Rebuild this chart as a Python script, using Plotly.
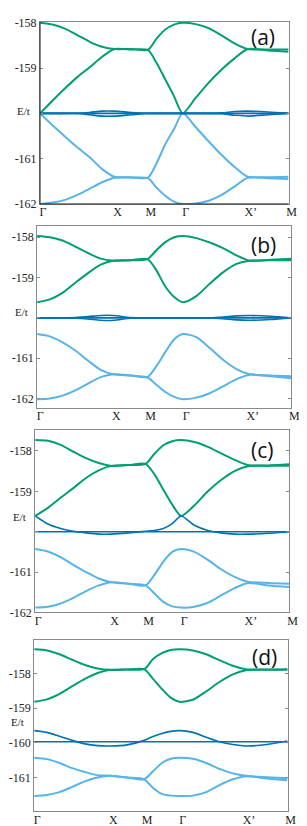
import plotly.graph_objects as go

W, H = 307, 826

# k-path sample positions (normalised path length) and high-symmetry labels
K = [0.0, 0.05, 0.10, 0.15, 0.20, 0.25, 0.30, 0.367, 0.434, 0.469, 0.504, 0.539,
     0.574, 0.626, 0.679, 0.731, 0.784, 0.836, 0.918, 1.0]
K_TICKS = [0.0, 0.30, 0.434, 0.574, 0.836, 1.0]
K_LABELS = ["Γ", "X", "M", "Γ", "X’", "M"]

# ---- panel (a) ----
a_green_top = [-158.00, -158.04, -158.13, -158.27, -158.42, -158.53, -158.58, -158.58, -158.60,
               -158.35, -158.15, -158.04, -158.00, -158.03, -158.12, -158.28, -158.46, -158.58,
               -158.59, -158.59]
a_green_low = [-160.00, -159.72, -159.45, -159.20, -158.98, -158.75, -158.58, -158.59, -158.60,
               -158.89, -159.25, -159.62, -160.00, -159.66, -159.32, -159.03, -158.78, -158.58,
               -158.61, -158.64]
a_dark_flat = [-160.0] * 20
a_dark_up = [-160.00, -160.00, -160.00, -160.00, -159.98, -159.95, -159.95, -159.98, -160.00,
             -160.00, -160.00, -160.00, -160.00, -160.00, -160.00, -159.99, -159.96, -159.95,
             -159.97, -160.00]
a_dark_dn = [-160.00, -160.00, -160.00, -160.00, -160.03, -160.06, -160.06, -160.03, -160.00,
             -160.00, -160.00, -160.00, -160.00, -160.00, -160.00, -160.01, -160.04, -160.06,
             -160.03, -160.00]
a_light_up = [-160.00, -160.26, -160.51, -160.75, -160.97, -161.23, -161.40, -161.41, -161.42,
              -161.10, -160.68, -160.35, -160.00, -160.30, -160.62, -160.92, -161.19, -161.40,
              -161.41, -161.40]
a_light_low = [-162.00, -161.97, -161.91, -161.80, -161.66, -161.52, -161.42, -161.42, -161.43,
               -161.64, -161.82, -161.95, -162.00, -161.99, -161.93, -161.80, -161.61, -161.42,
               -161.43, -161.45]

# ---- panel (b) ----
b_green_top = [-157.97, -158.00, -158.08, -158.23, -158.39, -158.53, -158.58, -158.57, -158.54,
               -158.32, -158.12, -158.00, -157.97, -158.02, -158.13, -158.27, -158.45, -158.58,
               -158.56, -158.53]
b_green_low = [-159.61, -159.54, -159.38, -159.13, -158.89, -158.68, -158.58, -158.57, -158.54,
               -158.82, -159.22, -159.48, -159.61, -159.46, -159.15, -158.87, -158.66, -158.58,
               -158.57, -158.57]
b_dark_flat = [-160.0] * 20
b_dark_up = [-160.00, -160.00, -160.00, -159.99, -159.97, -159.94, -159.94, -159.99, -160.00,
             -160.00, -160.00, -160.00, -160.00, -160.00, -160.00, -159.98, -159.95, -159.94,
             -159.96, -160.00]
b_dark_dn = [-160.00, -160.00, -160.00, -160.01, -160.03, -160.06, -160.06, -160.01, -160.00,
             -160.00, -160.00, -160.00, -160.00, -160.00, -160.00, -160.02, -160.05, -160.06,
             -160.04, -160.00]
b_light_up = [-160.40, -160.46, -160.61, -160.81, -161.06, -161.29, -161.40, -161.43, -161.47,
              -161.20, -160.85, -160.53, -160.40, -160.48, -160.75, -161.04, -161.27, -161.40,
              -161.43, -161.45]
b_light_low = [-162.02, -162.00, -161.93, -161.80, -161.63, -161.47, -161.40, -161.43, -161.48,
               -161.66, -161.84, -161.96, -162.02, -161.98, -161.87, -161.70, -161.52, -161.41,
               -161.45, -161.50]

# ---- panel (c) ----
c_green_top = [-157.73, -157.75, -157.85, -158.02, -158.18, -158.30, -158.37, -158.35, -158.32,
               -158.07, -157.86, -157.76, -157.73, -157.78, -157.90, -158.06, -158.22, -158.35,
               -158.36, -158.33]
c_green_low = [-159.61, -159.41, -159.16, -158.92, -158.67, -158.48, -158.37, -158.35, -158.32,
               -158.58, -158.96, -159.33, -159.61, -159.35, -159.00, -158.72, -158.50, -158.38,
               -158.37, -158.37]
c_dark_flat = [-160.0] * 20
c_dark_disp = [-159.61, -159.81, -159.92, -159.99, -160.03, -160.06, -160.06, -160.03, -159.99,
               -159.97, -159.92, -159.80, -159.61, -159.84, -159.97, -160.03, -160.06, -160.06,
               -160.04, -160.00]
c_light_up = [-160.43, -160.49, -160.63, -160.82, -161.00, -161.16, -161.25, -161.29, -161.33,
              -161.07, -160.74, -160.50, -160.43, -160.50, -160.70, -160.93, -161.12, -161.24,
              -161.27, -161.29]
c_light_low = [-161.88, -161.86, -161.78, -161.64, -161.47, -161.33, -161.25, -161.29, -161.33,
               -161.53, -161.74, -161.85, -161.88, -161.86, -161.76, -161.58, -161.40, -161.27,
               -161.33, -161.37]

# ---- panel (d) ----
d_green_top = [-157.31, -157.34, -157.45, -157.61, -157.76, -157.86, -157.90, -157.89, -157.88,
               -157.59, -157.42, -157.33, -157.31, -157.34, -157.45, -157.62, -157.78, -157.88,
               -157.89, -157.88]
d_green_low = [-158.82, -158.75, -158.59, -158.37, -158.16, -157.99, -157.90, -157.89, -157.88,
               -158.16, -158.45, -158.70, -158.82, -158.76, -158.52, -158.25, -158.03, -157.91,
               -157.90, -157.90]
d_dark_flat = [-159.97] * 20
d_dark_disp = [-159.65, -159.70, -159.81, -159.93, -160.03, -160.08, -160.09, -160.06, -159.93,
               -159.82, -159.73, -159.67, -159.65, -159.70, -159.84, -159.97, -160.05, -160.09,
               -160.05, -159.95]
d_light_up = [-160.43, -160.47, -160.58, -160.73, -160.84, -160.93, -160.95, -161.00, -161.05,
              -160.82, -160.58, -160.46, -160.43, -160.46, -160.58, -160.75, -160.88, -160.95,
              -160.99, -161.02]
d_light_low = [-161.53, -161.50, -161.42, -161.27, -161.11, -161.00, -160.95, -161.00, -161.05,
               -161.30, -161.47, -161.52, -161.53, -161.52, -161.42, -161.22, -161.05, -160.96,
               -161.03, -161.08]

GREEN = "#009E73"
DARK = "#0072B2"
LIGHT = "#56B4E9"

panels = [
    dict(name="(a)", bands=[(a_light_up, LIGHT), (a_light_low, LIGHT), (a_green_top, GREEN),
                            (a_green_low, GREEN), (a_dark_up, DARK), (a_dark_dn, DARK), (a_dark_flat, DARK)],
         px=(33, 289), py=(8, 193), yr=(-162.0, -157.98),
         yt=[-158, -159, -160, -161, -162], ytt=["-158", "-159", "", "-161", "-162"],
         et=(16, 99), lab=(263, 23)),
    dict(name="(b)", bands=[(b_light_up, LIGHT), (b_light_low, LIGHT), (b_green_top, GREEN),
                            (b_green_low, GREEN), (b_dark_up, DARK), (b_dark_dn, DARK), (b_dark_flat, DARK)],
         px=(30, 292), py=(215, 400), yr=(-162.23, -157.71),
         yt=[-158, -159, -160, -161, -162], ytt=["-158", "-159", "", "-161", "-162"],
         et=(14, 303), lab=(263, 235)),
    dict(name="(c)", bands=[(c_light_up, LIGHT), (c_light_low, LIGHT), (c_green_top, GREEN),
                            (c_green_low, GREEN), (c_dark_disp, DARK), (c_dark_flat, DARK)],
         px=(28, 290), py=(423, 608), yr=(-162.0, -157.49),
         yt=[-158, -159, -160, -161, -162], ytt=["-158", "-159", "", "-161", "-162"],
         et=(12, 511), lab=(262, 443)),
    dict(name="(d)", bands=[(d_light_up, LIGHT), (d_light_low, LIGHT), (d_green_top, GREEN),
                            (d_green_low, GREEN), (d_dark_disp, DARK), (d_dark_flat, DARK)],
         px=(27, 288), py=(636, 810), yr=(-161.97, -157.04),
         yt=[-158, -159, -160, -161], ytt=["-158", "-159", "-160", "-161"],
         et=(10, 719), lab=(264, 653)),
]

fig = go.Figure()
SERIF = "Liberation Serif, Times New Roman, DejaVu Serif, serif"
annotations = []
shapes = []
layout = {}
for i, p in enumerate(panels):
    n = "" if i == 0 else str(i + 1)
    xa, ya = "x" + n, "y" + n
    for vals, col in p["bands"]:
        fig.add_trace(go.Scatter(x=K, y=vals, mode="lines", xaxis=xa, yaxis=ya,
                                 line=dict(color=col, width=1.6 if col == DARK else 2,
                                           shape="spline", smoothing=0.7),
                                 showlegend=False, hoverinfo="skip"))
    x0, x1 = p["px"][0] / W, p["px"][1] / W
    y0, y1 = 1 - p["py"][1] / H, 1 - p["py"][0] / H
    layout["xaxis" + n] = dict(domain=[x0, x1], range=[0, 1], anchor=ya,
                               tickvals=K_TICKS, ticktext=K_LABELS, ticks="", showgrid=False,
                               zeroline=False, showline=True, mirror=True, linecolor="#8a8a8a",
                               linewidth=1, ticklabelshift=3, ticklabelstandoff=-3,
                               tickfont=dict(family=SERIF, size=12, color="#222"))
    layout["yaxis" + n] = dict(domain=[y0, y1], range=list(p["yr"]), anchor=xa,
                               tickvals=p["yt"], ticktext=p["ytt"], ticks="inside", ticklen=3,
                               tickcolor="#8a8a8a", showgrid=False, zeroline=False, showline=True,
                               mirror="ticks", linecolor="#8a8a8a", linewidth=1,
                               tickfont=dict(family=SERIF, size=12, color="#222"))
    annotations.append(dict(x=p["et"][0] / W, y=1 - p["et"][1] / H, xref="paper", yref="paper",
                            text="E/t", showarrow=False, xanchor="center", yanchor="middle",
                            font=dict(family=SERIF, size=11, color="#222")))
    annotations.append(dict(x=p["lab"][0] / W, y=1 - p["lab"][1] / H, xref="paper", yref="paper",
                            text=p["name"], showarrow=False, xanchor="center", yanchor="middle",
                            font=dict(family="Open Sans", size=21, color="#111")))

# darker left/bottom axis lines in panel (a)
shapes.append(dict(type="line", xref="paper", yref="paper", x0=33 / W, x1=33 / W,
                   y0=1 - 193 / H, y1=1 - 8 / H, line=dict(color="#222", width=1)))
shapes.append(dict(type="line", xref="paper", yref="paper", x0=33 / W, x1=289 / W,
                   y0=1 - 193 / H, y1=1 - 193 / H, line=dict(color="#222", width=1)))

fig.update_layout(width=W, height=H, margin=dict(l=0, r=0, t=0, b=0),
                  paper_bgcolor="white", plot_bgcolor="white",
                  annotations=annotations, shapes=shapes, **layout)
fig.write_html("out.html")
